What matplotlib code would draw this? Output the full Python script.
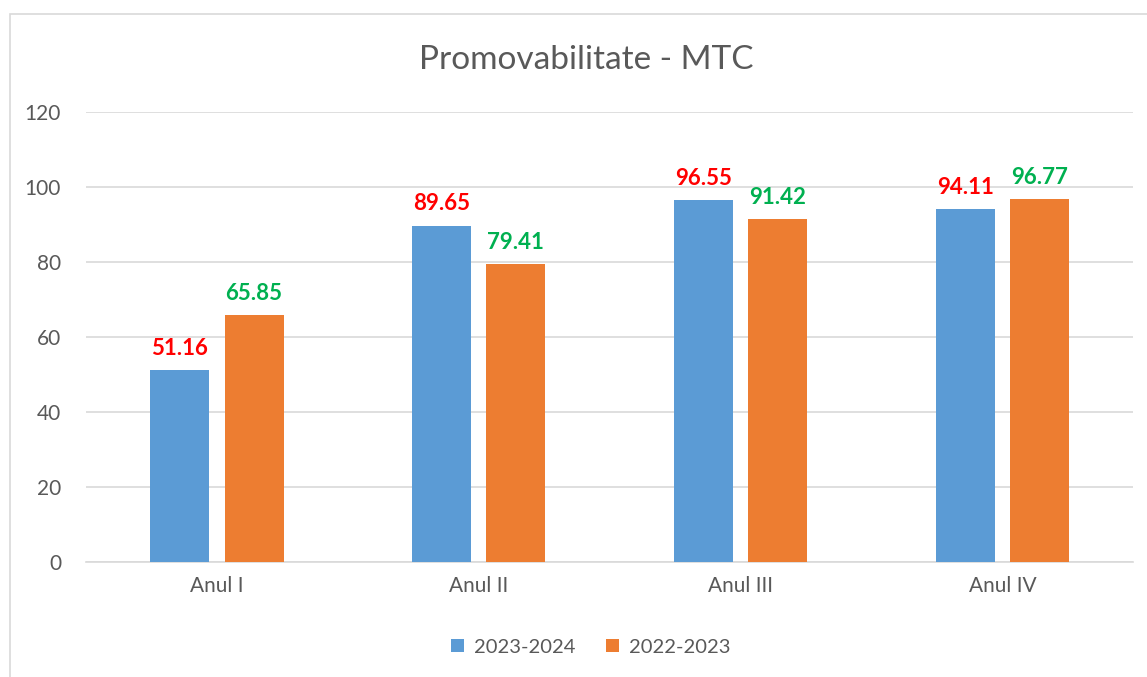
import numpy as np
import matplotlib.pyplot as plt
from matplotlib.patches import Rectangle

plt.rcParams['font.family'] = ['Lato', 'DejaVu Sans']

# data
categories = ["Anul I", "Anul II", "Anul III", "Anul IV"]
series_names = ["2023-2024", "2022-2023"]
vals_2023_2024 = [51.16, 89.65, 96.55, 94.11]
vals_2022_2023 = [65.85, 79.41, 91.42, 96.77]
y_ticks = [0, 20, 40, 60, 80, 100, 120]

blue = "#5B9BD5"
orange = "#ED7D31"
text_gray = "#595959"

fig = plt.figure(figsize=(11.47, 6.77), dpi=100)
ax = fig.add_axes([0.075, 0.170, 0.913, 0.665])

x = np.arange(len(categories))
w = 0.226
off = 0.142

b1 = ax.bar(x - off, vals_2023_2024, w, color=blue, label=series_names[0], zorder=3)
b2 = ax.bar(x + off, vals_2022_2023, w, color=orange, label=series_names[1], zorder=3)

# data labels
for bars, col in [(b1, "#FF0000"), (b2, "#00B050")]:
    for rect in bars:
        h = rect.get_height()
        ax.annotate(f"{h:.2f}", (rect.get_x() + rect.get_width() / 2, h),
                    xytext=(0, 8), textcoords="offset points",
                    ha="center", va="bottom", color=col,
                    fontsize=16, fontweight="bold")

ax.set_xlim(-0.5, len(categories) - 0.5)
ax.set_ylim(0, 120)
ax.set_yticks(y_ticks)
ax.set_xticks(x)
ax.set_xticklabels(categories)
ax.yaxis.grid(True, color="#D9D9D9", linewidth=1.2, zorder=0)
ax.set_axisbelow(True)
for s in ["top", "right", "left"]:
    ax.spines[s].set_visible(False)
ax.spines["bottom"].set_color("#D9D9D9")
ax.spines["bottom"].set_linewidth(1.2)
ax.tick_params(axis="both", length=0, colors=text_gray, labelsize=15)
ax.tick_params(axis="y", pad=18)
ax.tick_params(axis="x", pad=10)

fig.suptitle("Promovabilitate - MTC", x=0.511, y=0.933, fontsize=24,
             color=text_gray)

leg = fig.legend(loc="center", bbox_to_anchor=(0.515, 0.044), ncol=2,
                 frameon=False, fontsize=14.5, handlelength=0.65,
                 handleheight=0.65, handletextpad=0.5, columnspacing=1.5)
for t in leg.get_texts():
    t.set_color(text_gray)

# outer chart border
fig.patches.append(Rectangle((0.0087, -0.1), 1.1, 1.0793, transform=fig.transFigure,
                             fill=False, edgecolor="#D9D9D9", linewidth=1.2))

fig.savefig("out.png", dpi=100)
